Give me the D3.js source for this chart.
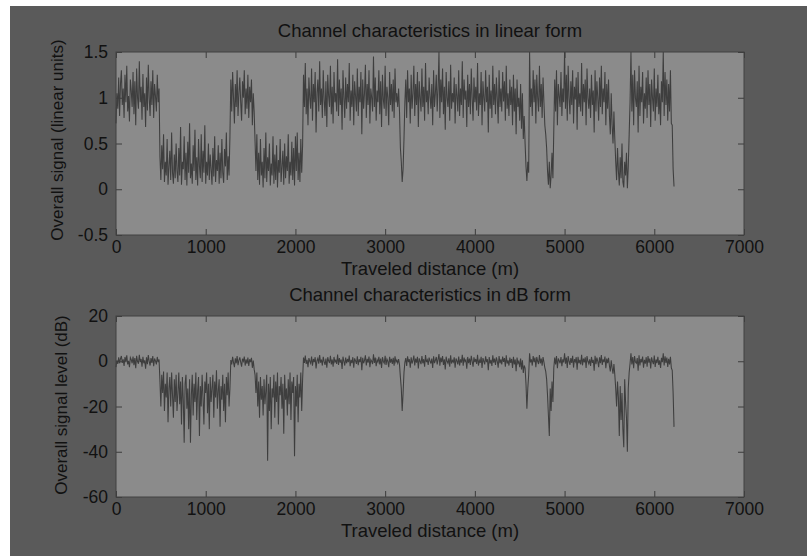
<!DOCTYPE html>
<html><head><meta charset="utf-8">
<script src="https://cdn.jsdelivr.net/npm/d3@7"></script>
<style>
html,body{margin:0;padding:0;background:#fff;}
svg{display:block;font-family:"Liberation Sans",Arial,sans-serif;}
</style></head>
<body>
<svg id="chart" width="807" height="556"></svg>
<script>
// ---- data (sample spacing 10 m, 0 .. 6220 m) ----
const distanceStep = 10;
const xTicks = [0, 1000, 2000, 3000, 4000, 5000, 6000, 7000];
const linearTicks = [-0.5, 0, 0.5, 1, 1.5];
const dbTicks = [-60, -40, -20, 0, 20];
const titles = ["Channel characteristics in linear form", "Channel characteristics in dB form"];
const yLabels = ["Overall signal (linear units)", "Overall signal level (dB)"];
const xLabel = "Traveled distance (m)";

const linearSignal = [
  // 0-480 m
  .72,1.05,.88,1.22,.8,1.15,1.3,.92,1.1,.78,
  1.25,.95,1.35,.85,1.02,.74,1.2,1.08,.9,1.28,
  .82,1.18,.7,1.32,1.0,.88,1.4,.95,1.12,.76,
  1.26,.9,1.05,.68,1.22,.86,1.36,1.0,.8,1.18,
  .92,1.3,.78,1.15,1.02,.85,1.25,.95,1.1,
  // 490-1270 m
  .35,.1,.48,.22,.6,.08,.3,.15,.55,.05,
  .25,.42,.1,.62,.18,.06,.38,.12,.5,.2,
  .08,.45,.15,.68,.05,.3,.22,.58,.1,.4,
  .04,.52,.18,.72,.12,.28,.06,.48,.2,.65,
  .1,.35,.04,.55,.25,.12,.6,.08,.42,.18,
  .7,.06,.3,.15,.5,.1,.38,.22,.05,.45,
  .14,.58,.08,.32,.2,.48,.06,.4,.12,.55,
  .18,.07,.44,.25,.62,.1,.36,.15,.58,
  // 1280-1540 m
  1.2,.85,1.28,1.0,.72,1.15,.9,1.3,.8,1.05,
  1.22,.95,.75,1.18,1.0,1.3,.82,1.1,.88,1.25,
  .78,1.12,.95,1.2,.7,1.05,.85,
  // 1550-2080 m
  .52,.2,.6,.1,.4,.05,.55,.15,.3,.02,
  .45,.12,.62,.08,.35,.2,.5,.04,.28,.15,
  .58,.06,.38,.1,.48,.02,.32,.18,.55,.08,
  .25,.42,.05,.5,.12,.36,.2,.6,.06,.3,
  .15,.52,.1,.45,.04,.58,.2,.62,.1,.4,
  .08,.55,.18,.48,
  // 2090-3150 m
  1.25,.9,1.38,.82,1.1,.7,1.22,1.0,.88,1.32,
  .75,1.15,.95,1.28,.62,1.05,1.2,.85,1.4,.92,
  1.1,.78,1.3,.98,.8,1.18,.68,1.25,1.02,.9,
  1.35,.82,1.12,.72,1.28,.95,1.05,.85,1.42,.8,
  1.2,.92,1.1,.65,1.3,1.0,.78,1.22,.88,1.15,
  .95,1.38,.75,1.08,.9,1.25,.7,1.18,1.02,.85,
  1.32,.8,1.12,.95,1.28,.6,1.2,.88,1.05,1.36,
  .78,1.15,.92,1.3,.72,1.1,1.0,.85,1.45,.9,
  1.22,.75,1.08,.95,1.3,.82,1.18,.68,1.25,.98,
  .88,1.35,.8,1.12,1.0,.7,1.28,.92,1.15,.85,
  1.2,.78,1.32,.95,1.05,.9,1.1,
  // 3160-3220 m
  .85,.45,.3,.08,.22,.55,.95,
  // 3230-4550 m
  1.2,.78,1.3,.95,1.1,.72,1.25,.88,1.05,1.35,
  .8,1.15,.92,1.28,.68,1.18,1.0,.85,1.32,.9,
  1.12,.75,1.38,.95,1.08,.82,1.22,1.02,.88,1.15,
  .7,1.3,.9,1.05,1.25,.85,1.1,1.5,.78,1.2,
  .95,1.32,.82,1.12,.65,1.28,1.0,.9,1.18,.75,
  1.36,.88,1.05,.95,1.22,.72,1.15,1.02,.85,1.3,
  .8,1.1,.92,1.4,.78,1.2,.98,1.08,.68,1.25,
  .9,1.15,.82,1.32,1.0,.75,1.22,.95,1.12,.86,
  1.38,.8,1.05,.92,1.28,.7,1.18,1.0,.85,1.3,
  .95,1.12,.62,1.25,.88,1.08,.78,1.35,.92,1.15,
  .82,1.22,1.0,.72,1.3,.9,1.1,.85,1.28,.96,
  1.18,.75,1.35,.88,1.05,.8,1.2,.92,1.12,.7,
  1.25,.85,1.1,.6,1.2,.9,1.0,.75,1.15,.66,
  1.05,.55,.8,
  // 4560-4620 m
  .5,.25,.09,.3,.18,1.5,.9,
  // 4630-4790 m
  1.1,.8,1.3,.95,1.2,.72,1.25,1.0,.85,1.35,
  .9,1.15,.78,1.22,.95,.7,.6,
  // 4800-4880 m
  .45,.2,.05,.3,.01,.15,.4,.12,.65,
  // 4890-5550 m
  1.2,.85,1.3,.7,1.15,1.02,.9,1.28,.8,1.1,
  .95,1.5,.88,1.25,.75,1.35,1.0,.82,1.18,.92,
  1.3,.72,1.12,.98,1.22,.65,1.28,.9,1.05,.85,
  1.38,.8,1.15,.95,1.2,.7,1.32,1.0,.88,1.1,
  .78,1.25,.92,1.08,.62,1.3,.85,1.18,1.0,.75,
  1.22,.9,1.35,.82,1.1,.95,1.28,.7,1.15,.88,
  1.2,.8,.6,1.05,.7,.5,.85,
  // 5560-5720 m
  .55,.3,.1,.45,.2,.04,.35,.12,.5,.08,
  .02,.3,.15,.4,.01,.25,.6,
  // 5730-6190 m
  .95,1.5,.85,1.25,.7,1.3,1.0,.9,1.18,.62,
  1.35,.8,1.12,.95,1.28,.72,1.05,.88,1.22,.78,
  1.3,.92,1.15,.68,1.2,1.0,.85,1.32,.75,1.1,
  .9,1.25,.82,1.05,.7,1.18,.95,1.5,.8,1.28,
  .92,1.2,.75,1.15,.85,1.3,.72,
  // 6200-6220 m
  .7,.22,.03
];

const dbSignal = [
  // 0-480 m
  -2.6,.4,-1.2,1.7,-.9,1.2,2.3,-.7,.8,-2.1,
  1.9,-.4,2.6,-1.4,.2,-2.6,1.6,.7,-.9,2.1,
  -1.7,1.4,-3.1,2.4,0,-1.1,2.9,-.4,1.0,-2.4,
  2.0,-.9,.4,-3.3,1.7,-1.3,2.7,0,-1.9,1.4,
  -.7,2.3,-2.2,1.2,.2,-1.4,1.9,-.4,.8,
  // 490-1270 m
  -9,-20,-6,-14,-4.5,-22,-10,-16,-5,-27,
  -12,-7,-20,-5,-15,-25,-8,-18,-6,-22,
  -14,-5,-19,-9,-28,-7,-17,-36,-10,-6,
  -21,-12,-30,-8,-36,-15,-6,-24,-10,-18,
  -5,-26,-13,-7,-33,-11,-20,-6,-16,-28,
  -9,-14,-5,-23,-10,-30,-7,-18,-12,-6,
  -25,-9,-16,-4,-21,-13,-8,-29,-11,-17,
  -6,-22,-10,-27,-7,-15,-5,-20,-12,
  // 1280-1540 m
  .5,-1.4,2.0,-.6,-2.6,1.3,-.9,2.3,-1.7,.4,
  1.7,-.4,-2.4,1.1,0,2.1,-1.9,.8,-1.1,1.6,
  -2.1,.9,-.4,1.5,-2.9,.3,-3.5,
  // 1550-2080 m
  -6,-14,-5,-20,-9,-25,-7,-17,-11,-24,
  -8,-19,-13,-6,-44,-10,-22,-7,-30,-12,
  -16,-6,-25,-9,-18,-5,-28,-11,-15,-7,
  -21,-10,-32,-6,-17,-12,-24,-8,-19,-5,
  -26,-9,-14,-7,-42,-11,-20,-6,-27,-10,
  -16,-5,-22,-8,
  // 2090-3150 m
  1.6,-.7,2.5,-1.2,.6,-2.6,1.4,0,-.9,2.1,
  -2.0,1.0,-.4,1.8,-3.2,.3,1.3,-1.1,2.7,-.6,
  .7,-1.9,2.0,-.2,-1.6,1.2,-2.9,1.8,.2,-.8,
  2.4,-1.4,.8,-2.4,1.9,-.4,.4,-1.2,3.0,-1.6,
  1.4,-.6,.7,-3.4,2.0,0,-1.9,1.6,-.9,1.0,
  -.4,2.5,-2.2,.6,-.8,1.8,-2.8,1.3,.2,-1.2,
  2.2,-1.7,.9,-.4,2.0,-4.0,1.5,-.9,.4,2.6,
  -1.9,1.1,-.6,2.1,-2.6,.7,0,-1.2,3.1,-.7,
  1.6,-2.2,.6,-.4,2.0,-1.4,1.2,-3.0,1.8,-.1,
  -.9,2.4,-1.6,.9,0,-2.6,2.0,-.6,1.1,-1.2,
  1.5,-2.0,2.2,-.4,.5,-.8,1.0,
  // 3160-3220 m
  -1.5,-7,-12,-22,-14,-5,-.5,
  // 3230-4550 m
  1.4,-2.1,2.2,-.4,.9,-2.8,1.7,-1.0,.4,2.5,
  -1.9,1.2,-.6,2.0,-3.2,1.3,0,-1.3,2.3,-.9,
  .9,-2.4,2.7,-.4,.6,-1.6,1.6,.2,-1.0,1.2,
  -3.0,2.2,-.8,.4,1.9,-1.4,.8,3.2,-2.0,1.6,
  -.4,2.3,-1.6,.9,-3.6,2.0,0,-.9,1.3,-2.4,
  2.6,-1.0,.4,-.4,1.7,-2.8,1.2,.2,-1.4,2.1,
  -1.9,.8,-.6,2.9,-2.0,1.6,-.1,.6,-3.3,1.9,
  -.8,1.2,-1.6,2.4,0,-2.4,1.7,-.4,1.0,-1.2,
  2.8,-1.9,.4,-.7,2.0,-3.0,1.4,0,-1.4,2.2,
  -.4,.9,-4.0,1.9,-1.0,.6,-2.1,2.6,-.6,1.2,
  -1.6,1.7,0,-2.8,2.3,-.9,.8,-1.4,2.1,-.3,
  1.4,-2.4,2.6,-1.0,.4,-1.9,1.6,-.7,1.0,-3.0,
  2.0,-1.4,.8,-4.4,1.6,-.9,0,-2.6,1.2,-3.6,
  .4,-5.2,-1.9,
  // 4560-4620 m
  -3,-10,-21,-12,-6,3.5,-.5,
  // 4630-4790 m
  .8,-1.9,2.3,-.4,1.6,-2.6,1.9,0,-1.2,2.7,
  -.9,1.2,-2.0,1.8,-.4,-2.8,-4.5,
  // 4800-4880 m
  -8,-15,-24,-33,-12,-22,-9,-18,-3,
  // 4890-5550 m
  1.6,-1.4,2.3,-3.1,1.2,.2,-.9,1.9,-2.2,.8,
  -.5,3.5,-1.1,1.6,-3.0,2.3,0,-1.6,1.4,-.7,
  2.4,-2.8,.9,-.2,1.8,-3.7,2.0,-.9,.6,-1.4,
  2.8,-1.8,1.2,-.5,1.7,-3.0,2.3,0,-1.1,.8,
  -2.1,1.9,-.7,.6,-4.2,2.4,-1.3,1.6,0,-2.6,
  1.7,-.9,2.7,-1.6,.8,-.4,2.1,-3.1,1.2,-.8,
  1.5,-2.0,-4.5,.4,-3.0,-5.5,-1.2,
  // 5560-5720 m
  -6,-12,-20,-9,-16,-33,-11,-26,-14,-30,
  -38,-8,-18,-25,-40,-12,-5,
  // 5730-6190 m
  -1,3.5,-1.4,1.9,-3.1,2.3,-.4,-.9,1.4,-4.2,
  2.6,-1.9,1.0,-.5,2.1,-2.8,.6,-1.1,1.8,-2.4,
  2.3,-.6,1.2,-3.2,1.7,0,-1.3,2.5,-2.5,.8,
  -.8,2.0,-1.6,.4,-3.0,1.5,-.4,3.5,-1.9,2.2,
  -.7,1.6,-2.5,1.1,-1.4,2.0,-2.9,
  // 6200-6220 m
  -4,-14,-29
];

// ---- drawing ----
const svg = d3.select("#chart");
const W = 807, H = 556;
svg.append("rect").attr("x", 0).attr("y", 0).attr("width", W).attr("height", H).attr("fill", "#ffffff");
svg.append("rect").attr("x", 10).attr("y", 6).attr("width", W - 10).attr("height", H - 6).attr("fill", "#5a5a5a");

const panels = [
  {values: linearSignal, domain: [-0.5, 1.5], ticks: linearTicks, top: 52, bottom: 235,
   title: titles[0], ylabel: yLabels[0], ylabelX: 63, ylabelY: 140},
  {values: dbSignal, domain: [-60, 20], ticks: dbTicks, top: 316, bottom: 497,
   title: titles[1], ylabel: yLabels[1], ylabelX: 67, ylabelY: 405}
];
const left = 116, right = 744;
const textColor = "#111";
const fmt = v => String(v);

panels.forEach(p => {
  const x = d3.scaleLinear().domain([0, 7000]).range([left, right]);
  const y = d3.scaleLinear().domain(p.domain).range([p.bottom, p.top]);
  const g = svg.append("g");

  g.append("rect").attr("x", left).attr("y", p.top)
    .attr("width", right - left).attr("height", p.bottom - p.top)
    .attr("fill", "#8b8b8b");

  const line = d3.line().x((d, i) => x(i * distanceStep)).y(d => y(d));
  g.append("path").datum(p.values)
    .attr("d", line).attr("fill", "none")
    .attr("stroke", "#303030").attr("stroke-width", 1.05)
    .attr("stroke-opacity", 0.85).attr("stroke-linejoin", "miter");

  const styleAxis = sel => {
    sel.select(".domain").remove();
    sel.selectAll(".tick line").attr("stroke", "#3c3c3c");
    sel.selectAll(".tick text").attr("fill", textColor).attr("font-size", 17.5)
      .attr("font-family", "'Liberation Sans', Arial, sans-serif");
  };

  g.append("g").attr("transform", `translate(0,${p.bottom})`)
    .call(d3.axisBottom(x).tickValues(xTicks).tickFormat(fmt).tickSize(-6).tickPadding(6))
    .call(styleAxis);
  g.append("g").attr("transform", `translate(0,${p.top})`)
    .call(d3.axisTop(x).tickValues(xTicks).tickFormat("").tickSize(-6))
    .call(styleAxis);
  g.append("g").attr("transform", `translate(${left},0)`)
    .call(d3.axisLeft(y).tickValues(p.ticks).tickFormat(fmt).tickSize(-6).tickPadding(8))
    .call(styleAxis);
  g.append("g").attr("transform", `translate(${right},0)`)
    .call(d3.axisRight(y).tickValues(p.ticks).tickFormat("").tickSize(-6))
    .call(styleAxis);

  g.append("rect").attr("x", left).attr("y", p.top)
    .attr("width", right - left).attr("height", p.bottom - p.top)
    .attr("fill", "none").attr("stroke", "#404040").attr("stroke-width", 1);

  g.append("text").attr("x", (left + right) / 2).attr("y", p.top - 15)
    .attr("text-anchor", "middle").attr("font-size", 18.5).attr("fill", textColor)
    .text(p.title);
  g.append("text").attr("x", (left + right) / 2).attr("y", p.bottom + 40)
    .attr("text-anchor", "middle").attr("font-size", 18.5).attr("fill", textColor)
    .text(xLabel);
  g.append("text")
    .attr("transform", `translate(${p.ylabelX},${p.ylabelY}) rotate(-90)`)
    .attr("text-anchor", "middle").attr("font-size", 17).attr("fill", textColor)
    .text(p.ylabel);
});
</script>
</body></html>
